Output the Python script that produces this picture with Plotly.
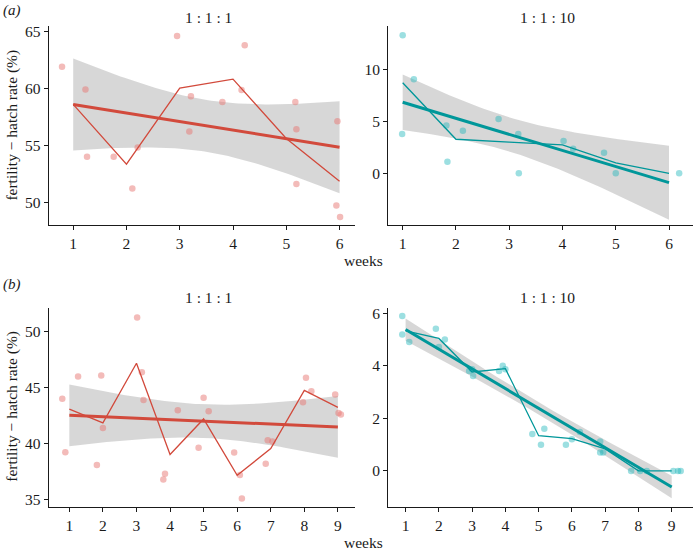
import numpy as np
import plotly.graph_objects as go

W, H = 695, 551

# ---------------- data ----------------
# (a) 1:1:1
a1_week = [1, 1, 1, 2, 2, 2, 3, 3, 3, 4, 4, 4, 5, 5, 5, 6, 6, 6]
a1_jit = [0.79, 1.23, 1.26, 1.76, 2.11, 2.21, 2.95, 3.21, 3.18, 3.80, 4.22, 4.16, 5.17, 5.19, 5.19, 5.96, 5.94, 6.01]
a1_val = [61.9, 59.9, 54.0, 54.0, 51.2, 54.8, 64.6, 59.3, 56.2, 58.8, 63.8, 59.85, 58.8, 56.4, 51.6, 57.1, 49.7, 48.7]

# (a) 1:1:10
a2_week = [1, 1, 1, 2, 2, 2, 3, 3, 3, 4, 4, 5, 5, 6]
a2_jit = [1.00, 0.99, 1.21, 1.82, 1.84, 2.13, 2.80, 3.17, 3.18, 4.02, 4.20, 4.78, 5.00, 6.19]
a2_val = [13.35, 3.8, 9.1, 4.63, 1.12, 4.12, 5.24, 3.8, 0.0, 3.13, 2.37, 2.0, 0.0, 0.0]

# (b) 1:1:1
b1_week = [1, 1, 1, 2, 2, 2, 3, 3, 3, 4, 4, 4, 5, 5, 5, 6, 6, 6, 7, 7, 7, 8, 8, 8, 9, 9, 9]
b1_jit = [0.79, 0.88, 1.26, 1.82, 1.95, 2.00, 3.02, 3.16, 3.21, 3.80, 3.85, 4.23, 4.85, 5.00, 5.15,
          5.91, 6.08, 6.14, 6.85, 6.91, 7.05, 7.96, 8.05, 8.21, 8.92, 9.02, 9.09]
b1_val = [44.02, 39.23, 46.0, 38.1, 46.1, 41.4, 51.3, 46.4, 43.9, 36.8, 37.3, 43.0, 39.64, 44.1, 42.9,
          39.2, 37.2, 35.1, 38.2, 40.3, 40.2, 43.7, 45.9, 44.7, 44.4, 42.75, 42.6]

# (b) 1:1:10
b2_week = [1, 1, 1, 2, 2, 2, 3, 3, 3, 4, 4, 4, 5, 5, 5, 6, 6, 6, 7, 7, 7, 8, 8, 8, 9, 9, 9]
b2_jit = [0.90, 0.90, 1.11, 1.91, 2.18, 2.00, 2.91, 3.03, 3.00, 3.81, 3.92, 4.00, 4.81, 5.07, 5.17,
          5.82, 6.24, 6.00, 6.85, 6.85, 6.94, 7.78, 8.25, 8.05, 9.05, 9.19, 9.27]
b2_val = [5.91, 5.20, 4.91, 5.42, 5.01, 4.72, 3.81, 3.62, 3.88, 3.81, 4.01, 3.88, 1.41, 1.00, 1.61,
          1.00, 1.48, 1.21, 1.12, 0.70, 0.70, 0.0, 0.0, 0.0, 0.0, 0.0, 0.0]

panel_titles = ["1 : 1 : 1", "1 : 1 : 10", "1 : 1 : 1", "1 : 1 : 10"]
ticks_a = [1, 2, 3, 4, 5, 6]
ticks_b = [1, 2, 3, 4, 5, 6, 7, 8, 9]
yticks = [[50, 55, 60, 65], [0, 5, 10], [35, 40, 45, 50], [0, 2, 4, 6]]

# t(0.975) quantiles by residual degrees of freedom
T975 = {12: 2.1788, 16: 2.1199, 25: 2.0595}

RED_LINE = "#D24A3C"
RED_PT = "rgba(232,120,115,0.5)"
TEAL_LINE = "#00979A"
TEAL_PT = "rgba(20,178,184,0.42)"
BAND = "rgba(190,190,190,0.62)"
FONT = "Liberation Serif"
TXT = "#1a1a1a"

# ---------------- figure ----------------
xl = [48.7 / W, 355 / W]
xr = [388.3 / W, 693 / W]
ya = [1 - 223.5 / H, 1 - 23 / H]
yb = [1 - 507.5 / H, 1 - 307 / H]

panels = [
    dict(week=a1_week, jit=a1_jit, val=a1_val, line=RED_LINE, pt=RED_PT, xd=xl, yd=ya,
         xr=[0.54, 6.29], yr=[48.0, 65.5], xt=ticks_a, yt=yticks[0]),
    dict(week=a2_week, jit=a2_jit, val=a2_val, line=TEAL_LINE, pt=TEAL_PT, xd=xr, yd=ya,
         xr=[0.73, 6.45], yr=[-4.98, 14.25], xt=ticks_a, yt=yticks[1]),
    dict(week=b1_week, jit=b1_jit, val=b1_val, line=RED_LINE, pt=RED_PT, xd=xl, yd=yb,
         xr=[0.385, 9.51], yr=[34.35, 52.16], xt=ticks_b, yt=yticks[2]),
    dict(week=b2_week, jit=b2_jit, val=b2_val, line=TEAL_LINE, pt=TEAL_PT, xd=xr, yd=yb,
         xr=[0.48, 9.64], yr=[-1.37, 6.22], xt=ticks_b, yt=yticks[3]),
]

fig = go.Figure()
layout = dict(
    width=W, height=H, margin=dict(l=0, r=0, t=0, b=0),
    paper_bgcolor="white", plot_bgcolor="white", showlegend=False,
    font=dict(family=FONT, size=15, color=TXT),
)

for i, p in enumerate(panels):
    k = "" if i == 0 else str(i + 1)
    xa, ya_ = "x" + k, "y" + k
    wk = np.array(p["week"], float)
    v = np.array(p["val"], float)
    n = len(wk)
    b, a = np.polyfit(wk, v, 1)
    resid = v - (a + b * wk)
    s = np.sqrt(np.sum(resid ** 2) / (n - 2))
    xbar = wk.mean()
    sxx = np.sum((wk - xbar) ** 2)
    xs = np.linspace(wk.min(), wk.max(), 80)
    fit = a + b * xs
    se = s * np.sqrt(1 / n + (xs - xbar) ** 2 / sxx)
    t = T975[n - 2]
    up, lo = fit + t * se, fit - t * se

    fig.add_trace(go.Scatter(x=np.concatenate([xs, xs[::-1]]), y=np.concatenate([up, lo[::-1]]),
                             fill="toself", fillcolor=BAND, line=dict(width=0), mode="lines",
                             hoverinfo="skip", xaxis=xa, yaxis=ya_))
    fig.add_trace(go.Scatter(x=p["jit"], y=p["val"], mode="markers",
                             marker=dict(size=6.5, color=p["pt"], line=dict(width=0)),
                             xaxis=xa, yaxis=ya_))
    weeks = sorted(set(p["week"]))
    means = [float(np.mean([vv for ww, vv in zip(p["week"], p["val"]) if ww == w])) for w in weeks]
    fig.add_trace(go.Scatter(x=weeks, y=means, mode="lines", line=dict(color=p["line"], width=1.3),
                             xaxis=xa, yaxis=ya_))
    fig.add_trace(go.Scatter(x=xs, y=fit, mode="lines", line=dict(color=p["line"], width=3),
                             xaxis=xa, yaxis=ya_))

    axcommon = dict(showline=True, linecolor=TXT, linewidth=1.2, ticks="outside",
                    ticklen=4, tickwidth=1.2, tickcolor=TXT, showgrid=False,
                    zeroline=False, fixedrange=True,
                    tickfont=dict(family=FONT, size=15.5, color=TXT))
    layout["xaxis" + k] = dict(domain=p["xd"], anchor=ya_, range=p["xr"], tickvals=p["xt"],
                               **axcommon)
    layout["yaxis" + k] = dict(domain=p["yd"], anchor=xa, range=p["yr"], tickvals=p["yt"],
                               **axcommon)

fig.update_layout(**layout)

ann = []
# panel titles
for title, cx, cy in zip(panel_titles, [208, 547.5, 208, 547.5], [15, 15, 297, 297]):
    ann.append(dict(text=title, x=cx / W, y=1 - cy / H, xref="paper", yref="paper",
                    showarrow=False, xanchor="center", yanchor="middle", font=dict(size=15.5)))
# panel letters
ann.append(dict(text="<i>(a)</i>", x=1 / W, y=1 - 8 / H, xref="paper", yref="paper",
                showarrow=False, xanchor="left", yanchor="middle", font=dict(size=15)))
ann.append(dict(text="<i>(b)</i>", x=1 / W, y=1 - 284 / H, xref="paper", yref="paper",
                showarrow=False, xanchor="left", yanchor="middle", font=dict(size=15)))
# axis titles
for cy in [259, 543]:
    ann.append(dict(text="weeks", x=363.5 / W, y=1 - cy / H, xref="paper", yref="paper",
                    showarrow=False, xanchor="center", yanchor="middle", font=dict(size=15.5)))
for cy in [123.5, 406.7]:
    ann.append(dict(text="fertility − hatch rate (%)", x=12 / W, y=1 - cy / H, xref="paper",
                    yref="paper", showarrow=False, textangle=-90, xanchor="center",
                    yanchor="middle", font=dict(size=15.5)))
fig.update_layout(annotations=ann)

fig.write_html("out.html", config={"displayModeBar": False},
               post_script="document.body.style.margin='0';document.body.style.padding='0';")
